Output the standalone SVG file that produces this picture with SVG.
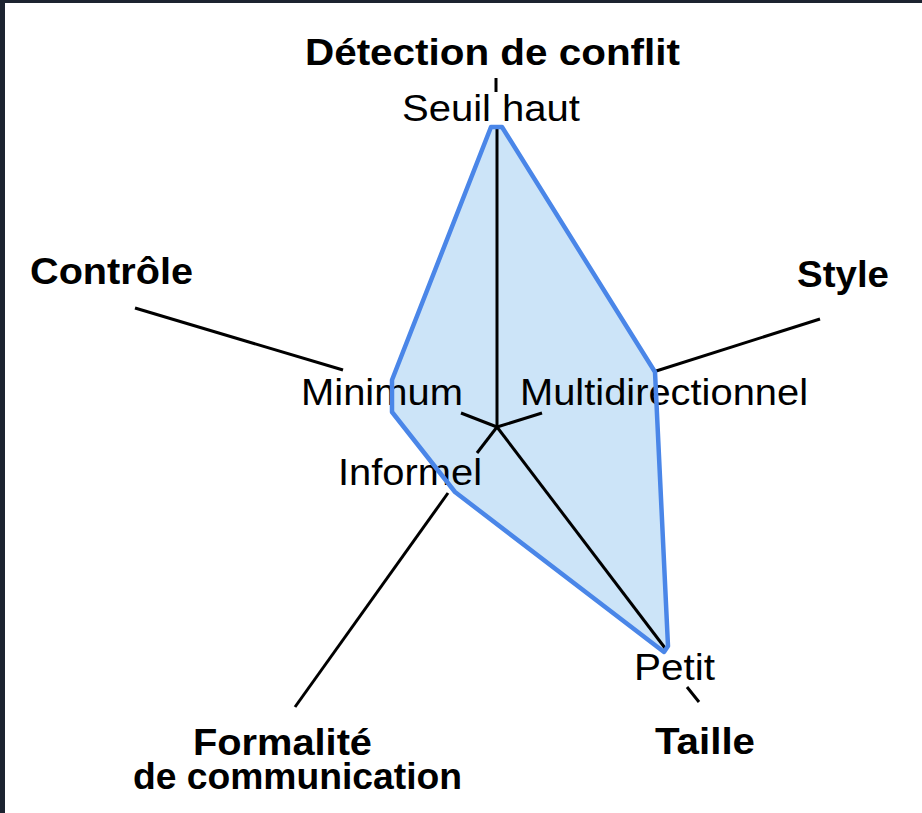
<svg xmlns="http://www.w3.org/2000/svg" width="922" height="813" viewBox="0 0 922 813">
  <style>
    .axis { font-family: "Liberation Sans", Arial, sans-serif; font-weight: bold; font-size: 37px; fill: #000; }
    .val { font-family: "Liberation Sans", Arial, sans-serif; font-size: 37px; fill: #000; }
    .ln { stroke: #000; stroke-width: 3; stroke-linecap: butt; fill: none; }
    .area { fill: #cce4f8; stroke: none; }
    .edge { fill: none; stroke: #4a86e8; stroke-width: 4.5; stroke-linejoin: round; }
  </style>
  <rect x="0" y="0" width="922" height="813" fill="#1c2330"/>
  <rect x="5" y="3" width="917" height="810" fill="#ffffff"/>

  <polygon id="area-fill" class="area" points="491,127 502,127 655,372 668,646 664,652 455,492 392,412 392,380"/>

  <g id="connectors">
    <line class="ln" x1="497" y1="128" x2="497" y2="428"/>
    <line class="ln" x1="496" y1="78" x2="496" y2="92"/>
    <line class="ln" x1="135" y1="308" x2="343" y2="370"/>
    <line class="ln" x1="461" y1="413" x2="497" y2="427"/>
    <line class="ln" x1="653" y1="372" x2="820" y2="319"/>
    <line class="ln" x1="497" y1="427" x2="542" y2="413"/>
    <line class="ln" x1="448" y1="493" x2="295" y2="707"/>
    <line class="ln" x1="497" y1="427" x2="477" y2="453"/>
    <line class="ln" x1="497" y1="427" x2="665" y2="648"/>
    <line class="ln" x1="687" y1="687" x2="699" y2="702"/>
  </g>

  <g id="axis-detection"><text class="axis" x="305" y="65" textLength="375" lengthAdjust="spacingAndGlyphs">Détection de conflit</text></g>
  <g id="axis-controle"><text class="axis" x="30" y="284" textLength="163" lengthAdjust="spacingAndGlyphs">Contrôle</text></g>
  <g id="axis-style"><text class="axis" x="797" y="287" textLength="92" lengthAdjust="spacingAndGlyphs">Style</text></g>
  <g id="axis-formalite">
    <text class="axis" x="193" y="755" textLength="179" lengthAdjust="spacingAndGlyphs">Formalité</text>
    <text class="axis" x="133" y="789" textLength="329" lengthAdjust="spacingAndGlyphs">de communication</text>
  </g>
  <g id="axis-taille"><text class="axis" x="655" y="754" textLength="100" lengthAdjust="spacingAndGlyphs">Taille</text></g>

  <g id="val-seuil"><text class="val" x="402" y="121" textLength="178" lengthAdjust="spacingAndGlyphs">Seuil haut</text></g>
  <g id="val-minimum"><text class="val" x="301" y="405" textLength="162" lengthAdjust="spacingAndGlyphs">Minimum</text></g>
  <g id="val-multi"><text class="val" x="520" y="405" textLength="288" lengthAdjust="spacingAndGlyphs">Multidirectionnel</text></g>
  <g id="val-informel"><text class="val" x="338" y="485" textLength="144" lengthAdjust="spacingAndGlyphs">Informel</text></g>
  <g id="val-petit"><text class="val" x="634" y="680" textLength="81" lengthAdjust="spacingAndGlyphs">Petit</text></g>

  <polygon id="area-edge" class="edge" points="491,127 502,127 655,372 668,646 664,652 455,492 392,412 392,380"/>
</svg>
